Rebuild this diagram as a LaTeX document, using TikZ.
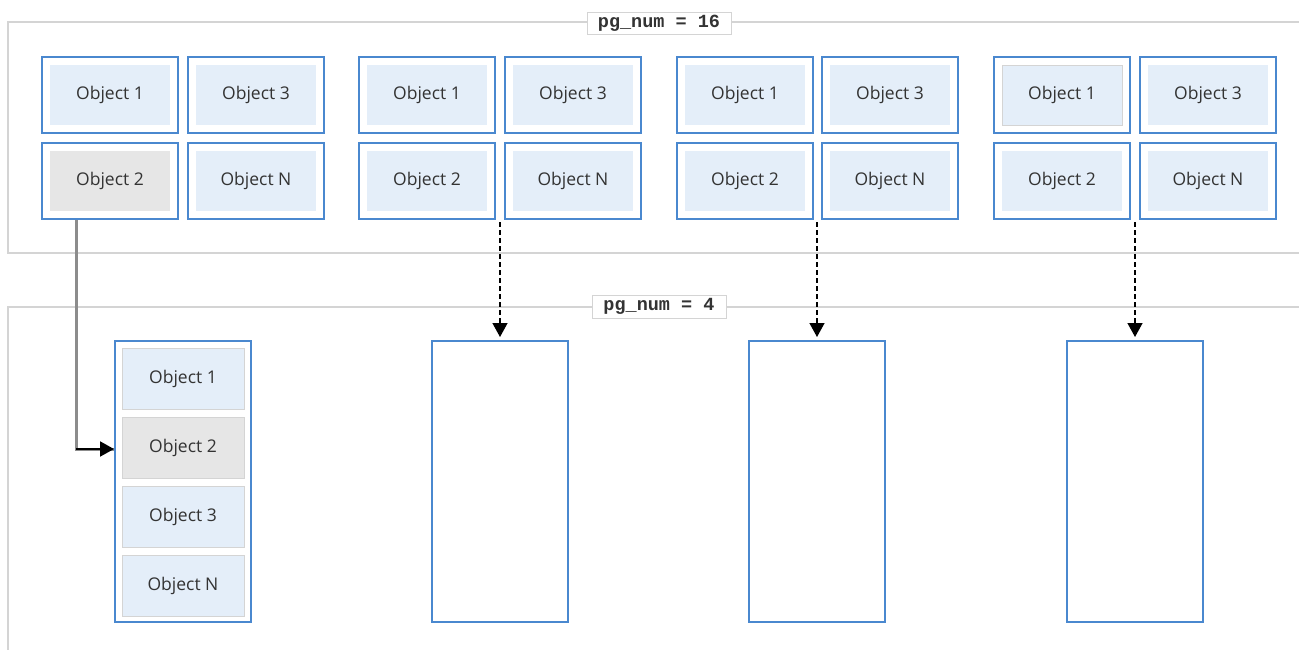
\documentclass[tikz,border=0pt]{standalone}
\usepackage{fontspec}
\setmainfont{Open Sans}
\newfontfamily\labelmono{Liberation Mono}
\usetikzlibrary{arrows.meta}
\definecolor{panelgray}{HTML}{D4D4D4}
\definecolor{boxblue}{HTML}{4A88CF}
\definecolor{lightfill}{HTML}{E4EEF9}
\definecolor{grayfill}{HTML}{E6E6E6}
\definecolor{txt}{HTML}{333333}
\tikzset{
  panel/.style={draw=panelgray, line width=2pt},
  outerbox/.style={draw=boxblue, line width=2pt, fill=white, minimum width=136pt, minimum height=76pt, inner sep=0pt},
  objbox/.style={fill=lightfill, minimum width=120pt, minimum height=60pt, inner sep=0pt, text=txt, font=\fontsize{17.5}{19}\selectfont},
  objgray/.style={objbox, fill=grayfill},
  colbox/.style={draw=boxblue, line width=2pt, fill=white, minimum width=136pt, minimum height=281pt, inner sep=0pt},
  colobj/.style={objbox, draw=panelgray, line width=0.8pt, minimum width=122pt, minimum height=61pt},
  pglabel/.style={draw=panelgray, line width=0.8pt, fill=white, inner sep=0pt, text=txt, font=\labelmono\bfseries\fontsize{18.5}{20}\selectfont},
  dasharrow/.style={line width=1.4pt, dash pattern=on 5pt off 3pt, shorten >=3pt, -{Triangle[length=14pt,width=15pt]}},
  movearrow/.style={draw=gray!90, line width=3pt},
}
\begin{document}
\begin{tikzpicture}[x=1pt,y=-1pt]
\useasboundingbox (0,0) rectangle (1299,650);
% panels
\draw[panel] (1320,22) -- (8,22) -- (8,253) -- (1320,253);
\draw[panel] (1320,307) -- (8,307) -- (8,670);
\node[pglabel, minimum width=144pt, minimum height=22pt] (lab16) at (659,23) {pg\_num = 16};
\node[pglabel, minimum width=134pt, minimum height=23pt] (lab4) at (659,306.5) {pg\_num = 4};
% top groups
\foreach \g/\xl/\xr in {1/110/256, 2/427/573, 3/745/890, 4/1062/1208}{
  \node[outerbox] (g\g a) at (\xl,95) {};
  \node[outerbox] (g\g c) at (\xr,95) {};
  \node[outerbox] (g\g b) at (\xl,181) {};
  \node[outerbox] (g\g n) at (\xr,181) {};
  \node[objbox] (g\g ai) at (g\g a) {Object 1};
  \node[objbox] (g\g ci) at (g\g c) {Object 3};
  \node[objbox] (g\g ni) at (g\g n) {Object N};
}
\node[objgray] (g1bi) at (g1b) {Object 2};
\foreach \g in {2,3,4}{ \node[objbox] (g\g bi) at (g\g b) {Object 2}; }
\node[objbox, draw=panelgray, line width=0.8pt] (g4ax) at (g4a) {Object 1};
% bottom columns
\node[colbox] (c1) at (183,481.5) {};
\node[colbox] (c2) at (500,481.5) {};
\node[colbox] (c3) at (817,481.5) {};
\node[colbox] (c4) at (1135,481.5) {};
\node[colobj] (o1) at (183,378.5) {Object 1};
\node[colobj, fill=grayfill] (o2) at (183,447.5) {Object 2};
\node[colobj] (o3) at (183,516.5) {Object 3};
\node[colobj] (oN) at (183,585.5) {Object N};
% dashed arrow start points (gap between the two lower boxes)
\coordinate (s2) at (500,222);
\coordinate (s3) at (817,222);
\coordinate (s4) at (1135,222);
% connectors
\coordinate (bend) at (76,449);
\draw[movearrow] (g1b.south -| bend) -- (bend) -- (c1.west |- bend);
\draw[-{Triangle[length=14pt,width=15pt]}, line width=2pt] (bend) -- (c1.west |- bend);
\draw[dasharrow] (s2) -- (c2.north);
\draw[dasharrow] (s3) -- (c3.north);
\draw[dasharrow] (s4) -- (c4.north);
\end{tikzpicture}
\end{document}
